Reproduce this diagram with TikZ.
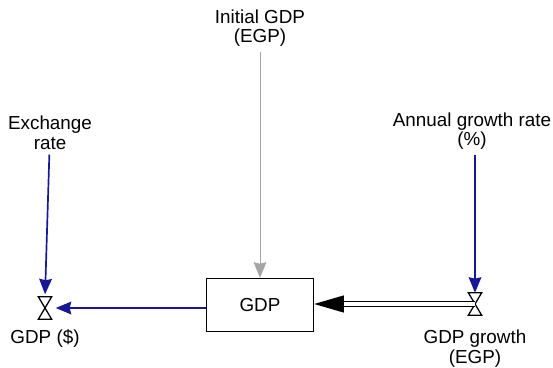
\documentclass[tikz,border=0pt]{standalone}
\usepackage{fontspec}
\setmainfont{Liberation Sans}
\usetikzlibrary{arrows.meta,positioning}

\definecolor{linkblue}{RGB}{24,24,150}
\definecolor{initgray}{RGB}{165,165,165}

\tikzset{
  valve/.style={minimum width=0.32cm, minimum height=0.55cm, inner sep=0pt},
  valveline/.style={draw=black, line width=0.9pt, line join=miter},
  link/.style={draw=linkblue, line width=1.2pt, -{Stealth[length=11pt,width=9pt,inset=1pt]}},
  flow/.style={double, double distance=2.6pt, line width=0.9pt}
}

\begin{document}
\begin{tikzpicture}[x=0.025cm, y=-0.025cm, every node/.style={font=\fontsize{13.4}{14}\selectfont, align=center}]
    \useasboundingbox (0,0) rectangle (553,368);

    \node[draw, line width=1pt, minimum width=2.675cm, minimum height=1.325cm] (gdp) at (260,305) {GDP};
    \node[valve] (vl) at (45,308) {};
    \node[valve] (vr) at (475,304) {};

    \node (init) at (260,28) {Initial GDP\\(EGP)};
    \node (exch) at (50,133) {Exchange\\rate};
    \node (annual) at (472,131) {Annual growth rate\\(\%)};
    \node[below=1.2mm of vl] (usd) {GDP (\$)};
    \node[below=2.4mm of vr] (growth) {GDP growth\\(EGP)};

    % valves
    \foreach \v in {vl,vr}
      \draw[valveline] (\v.north west) -- (\v.north east) -- (\v.south west) -- (\v.south east) -- cycle;

    % links
    \draw[draw=initgray, line width=0.7pt, -{Stealth[length=11pt,width=9pt,inset=1pt]}] (init) -- (gdp);
    \draw[link, shorten >=0.6mm] (exch) -- (vl.north);
    \draw[link] (annual.south -| vr) -- (vr.north);
    \draw[link, shorten >=1mm] (gdp.west |- vl) -- (vl.east);

    % inflow
    \draw[line width=0.9pt, -{Triangle[length=21pt,width=12pt]}] (vr.center) -- (gdp.east |- vr.center);
    \draw[flow, shorten >=21pt] (vr.center) -- (gdp.east |- vr.center);
  \end{tikzpicture}
\end{document}
